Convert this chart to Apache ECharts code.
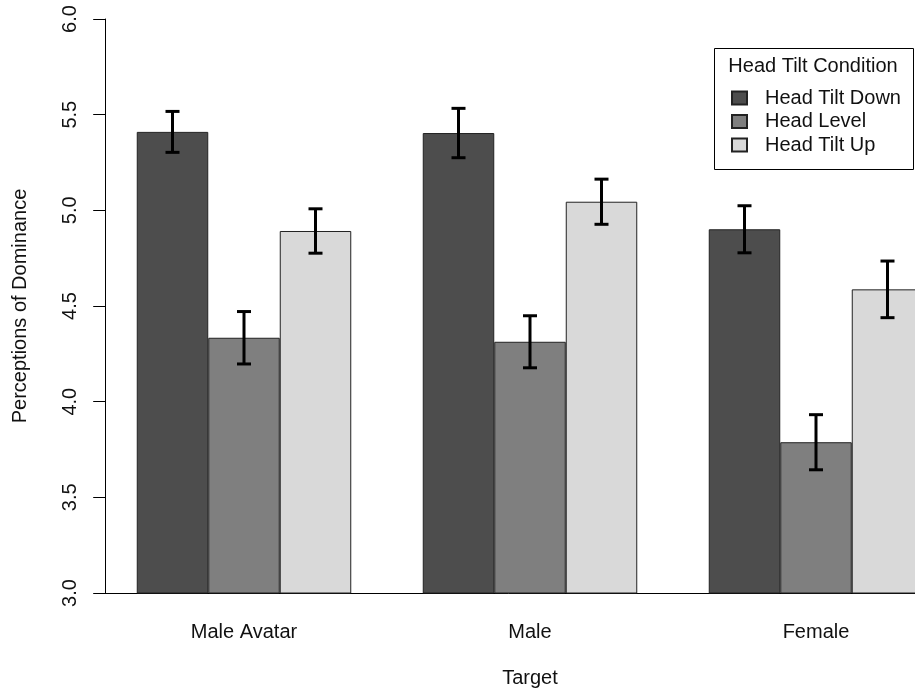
<!DOCTYPE html>
<html>
<head>
<meta charset="utf-8">
<script src="https://cdn.jsdelivr.net/npm/echarts@6/dist/echarts.min.js"></script>
<style>html,body{margin:0;padding:0;background:#fff;}#chart{width:915px;height:692px;}</style>
</head>
<body>
<div id="chart"></div>
<script>
const categories = ['Male Avatar', 'Male', 'Female'];
const seriesNames = ['Head Tilt Down', 'Head Level', 'Head Tilt Up'];
const headTiltDown = [5.41, 5.404, 4.901];
const headLevel = [4.334, 4.313, 3.788];
const headTiltUp = [4.892, 5.045, 4.587];
const errDown = [0.107, 0.129, 0.123];
const errLevel = [0.137, 0.136, 0.144];
const errUp = [0.116, 0.118, 0.148];
const yTicks = [3.0, 3.5, 4.0, 4.5, 5.0, 5.5, 6.0];

const colors = ['#4d4d4d', '#7f7f7f', '#d9d9d9'];
const FONT = 'Liberation Sans, Arial, Helvetica, sans-serif';
const TXT = '#111';

const means = [headTiltDown, headLevel, headTiltUp];
const errs = [errDown, errLevel, errUp];

const chart = echarts.init(document.getElementById('chart'), null, {renderer: 'canvas'});

const barSeries = seriesNames.map((name, i) => ({
  name: name,
  type: 'bar',
  data: means[i],
  barGap: '0%',
  barCategoryGap: '25%',
  itemStyle: {color: colors[i], borderColor: '#222', borderWidth: 1},
  emphasis: {disabled: true},
  z: 2
}));

const errSeries = seriesNames.map((name, i) => ({
  name: name + ' SE',
  type: 'custom',
  data: categories.map((c, k) => [k, means[i][k] - errs[i][k], means[i][k] + errs[i][k]]),
  encode: {x: 0, y: [1, 2]},
  z: 5,
  silent: true,
  renderItem: function (params, api) {
    const k = api.value(0);
    const lo = api.coord([k, api.value(1)]);
    const hi = api.coord([k, api.value(2)]);
    const band = api.size([1, 0])[0];
    const bw = band * 0.75 / 3;
    const x = lo[0] + (i - 1) * bw;
    const cap = 7;
    const st = {stroke: '#000', lineWidth: 3};
    return {
      type: 'group',
      children: [
        {type: 'line', shape: {x1: x, y1: lo[1], x2: x, y2: hi[1]}, style: st},
        {type: 'line', shape: {x1: x - cap, y1: lo[1], x2: x + cap, y2: lo[1]}, style: st},
        {type: 'line', shape: {x1: x - cap, y1: hi[1], x2: x + cap, y2: hi[1]}, style: st}
      ]
    };
  }
}));

const option = {
  animation: false,
  backgroundColor: '#fff',
  textStyle: {fontFamily: FONT},
  grid: {left: 101, top: 19, width: 858, height: 574, containLabel: false, outerBoundsMode: 'none'},
  xAxis: {
    type: 'category',
    data: categories,
    axisLine: {show: true, lineStyle: {color: '#000', width: 1}},
    axisTick: {show: false},
    axisLabel: {margin: 29, fontSize: 20, color: TXT, fontFamily: FONT},
    name: 'Target',
    nameLocation: 'middle',
    nameGap: 75,
    nameTextStyle: {fontSize: 20, color: TXT, fontFamily: FONT}
  },
  yAxis: {
    type: 'value',
    min: yTicks[0],
    max: yTicks[yTicks.length - 1],
    interval: 0.5,
    offset: -4.2,
    axisLine: {show: true, lineStyle: {color: '#000', width: 1}},
    axisTick: {show: true, length: 12, lineStyle: {color: '#000', width: 1}},
    splitLine: {show: false},
    axisLabel: {rotate: 90, margin: 25, fontSize: 20, color: TXT, fontFamily: FONT,
      formatter: v => v.toFixed(1)},
    name: 'Perceptions of Dominance',
    nameLocation: 'middle',
    nameRotate: 90,
    nameGap: 75,
    nameTextStyle: {fontSize: 20, color: TXT, fontFamily: FONT}
  },
  legend: {
    data: seriesNames,
    orient: 'vertical',
    left: 726,
    top: 82,
    icon: 'rect',
    itemWidth: 15,
    itemHeight: 13,
    itemGap: 1.5,
    selectedMode: false,
    textStyle: {fontSize: 20, color: TXT, fontFamily: FONT, lineHeight: 22, padding: [0, 0, 0, 13]}
  },
  graphic: [
    {type: 'rect', left: 714, top: 48, z: -1, shape: {width: 199, height: 121},
      style: {fill: '#fff', stroke: '#000', lineWidth: 1}},
    {type: 'text', x: 813, y: 66, z: 10,
      style: {text: 'Head Tilt Condition', fontSize: 20, fontFamily: FONT, fill: TXT,
        textAlign: 'center', textVerticalAlign: 'middle'}}
  ],
  series: barSeries.concat(errSeries)
};
chart.setOption(option);
</script>
</body>
</html>
